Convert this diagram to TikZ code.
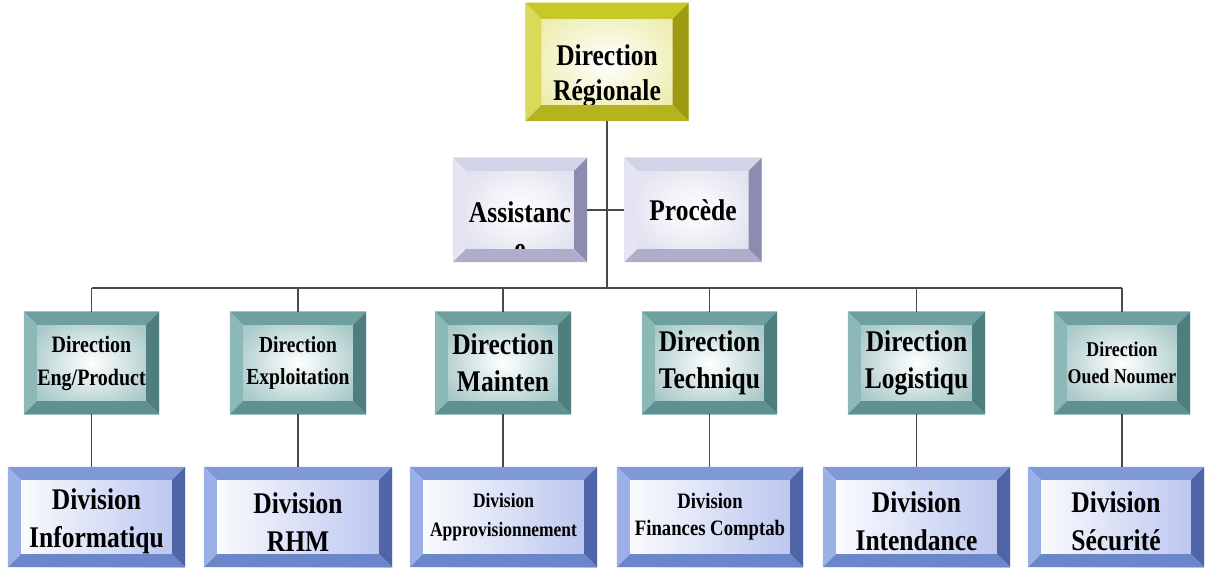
\documentclass[tikz,border=0pt]{standalone}
\usepackage{fontspec}
\newfontfamily\orgfont[FakeStretch=0.85]{Liberation Serif}

% frame colours: T top, L left, R right, B bottom, In inner tint
\definecolor{ylwT}{HTML}{C9C82A}
\definecolor{ylwL}{HTML}{DADA5A}
\definecolor{ylwR}{HTML}{9C9B12}
\definecolor{ylwB}{HTML}{B5B41E}
\definecolor{ylwIn}{HTML}{EDEDB0}
\definecolor{lavT}{HTML}{D3D3E8}
\definecolor{lavL}{HTML}{E4E4F2}
\definecolor{lavR}{HTML}{8C8CB0}
\definecolor{lavB}{HTML}{AEAECC}
\definecolor{lavIn}{HTML}{E2E2F0}
\definecolor{tlT}{HTML}{6FA0A0}
\definecolor{tlL}{HTML}{8CB8B8}
\definecolor{tlR}{HTML}{4E7E7E}
\definecolor{tlB}{HTML}{5F9191}
\definecolor{tlIn}{HTML}{A9C9C9}
\definecolor{blT}{HTML}{7F98D8}
\definecolor{blL}{HTML}{9BB0E6}
\definecolor{blR}{HTML}{4F65A8}
\definecolor{blB}{HTML}{6C86CA}
\definecolor{blIn}{HTML}{B7C3EE}
\definecolor{linegray}{HTML}{4A4A4A}

% bevelled frame over a node: node, colour family, bevel width
\newcommand{\bevelbox}[3]{%
  \fill[#2T] (#1.north west) -- (#1.north east) -- ([shift={(-#3,-#3)}]#1.north east) -- ([shift={(#3,-#3)}]#1.north west) -- cycle;
  \fill[#2L] (#1.north west) -- ([shift={(#3,-#3)}]#1.north west) -- ([shift={(#3,#3)}]#1.south west) -- (#1.south west) -- cycle;
  \fill[#2R] (#1.north east) -- (#1.south east) -- ([shift={(-#3,#3)}]#1.south east) -- ([shift={(-#3,-#3)}]#1.north east) -- cycle;
  \fill[#2B] (#1.south west) -- ([shift={(#3,#3)}]#1.south west) -- ([shift={(-#3,#3)}]#1.south east) -- (#1.south east) -- cycle;
}

\begin{document}
\begin{tikzpicture}[x=1pt, y=-1pt,
    link/.style={draw=linegray, line width=1.6pt},
    box/.style={rectangle, inner sep=0pt, align=center, text=black},
    txt/.style 2 args={font=\orgfont\bfseries\fontsize{#1}{#2}\selectfont},
    radin/.style={path picture={\shade[inner color=white, outer color=#1]
        (path picture bounding box.south west) rectangle (path picture bounding box.north east);}},
    axin/.style={path picture={\shade[left color=white, right color=#1]
        (path picture bounding box.south west) rectangle (path picture bounding box.north east);}},
    dirbox/.style={box, radin=tlIn, minimum width=136pt, minimum height=102pt},
    divbox/.style={box, axin=blIn, minimum height=100pt}]

    \useasboundingbox (0,0) rectangle (1210,569);

    % Top and staff boxes
    \node[box, radin=ylwIn, minimum width=163pt, minimum height=118pt, txt={30}{35}] (top) at (607,62)
        {\rule{0pt}{48pt}Direction\\Régionale};
    \node[box, radin=lavIn, minimum width=134pt, minimum height=104pt, txt={30}{36}] (asst) at (520,210)
        {\raisebox{0pt}[\height][0pt]{\begin{tabular}[t]{@{}c@{}}Assistanc\\e\end{tabular}}};
    \node[box, radin=lavIn, minimum width=137pt, minimum height=104pt, txt={30}{36}] (proc) at (693,210) {Procède};

    % Directions
    \node[dirbox, minimum width=135pt, txt={23.5}{33}] (d1) at (91.5,363) {Direction\\Eng/Product};
    \node[dirbox, txt={23}{32}] (d2) at (298,363) {Direction\\Exploitation};
    \node[dirbox, txt={30}{37}] (d3) at (503,363) {Direction\\Mainten};
    \node[dirbox, minimum width=135pt, txt={30}{37}] (d4) at (709.5,363) {Direction\\Techniqu};
    \node[dirbox, minimum width=137pt, txt={30}{37}] (d5) at (916.5,363) {Direction\\Logistiqu};
    \node[dirbox, txt={21}{27}] (d6) at (1122,363) {Direction\\Oued Noumer};

    % Divisions
    \node[divbox, minimum width=177pt, txt={30}{38}] (v1) at (96.5,517) {\rule{0pt}{30pt}Division\\Informatiqu};
    \node[divbox, minimum width=188pt, txt={30}{38}] (v2) at (298,517) {\rule{0pt}{30pt}Division\\RHM};
    \node[divbox, minimum width=187pt, txt={20.5}{29}] (v3) at (503.5,517) {Division\\Approvisionnement};
    \node[divbox, minimum width=186pt, txt={22}{27}] (v4) at (710,517) {Division\\Finances Comptab};
    \node[divbox, minimum width=187pt, txt={30}{38}] (v5) at (916.5,517) {\rule{0pt}{30pt}Division\\Intendance};
    \node[divbox, minimum width=176pt, txt={30}{38}] (v6) at (1116,517) {\rule{0pt}{30pt}Division\\Sécurité};

    % Bevelled frames
    \foreach \nd/\fcol/\bw in {top/ylw/16pt, asst/lav/13pt, proc/lav/13pt,
        d1/tl/13pt, d2/tl/13pt, d3/tl/13pt, d4/tl/13pt, d5/tl/13pt, d6/tl/13pt,
        v1/bl/13pt, v2/bl/13pt, v3/bl/13pt, v4/bl/13pt, v5/bl/13pt, v6/bl/13pt}
        {\bevelbox{\nd}{\fcol}{\bw}}

    % Connectors
    \coordinate (bus) at (607,288);
    \draw[link] (top.south) -- (top.south |- bus);
    \draw[link] (asst.east) -- (proc.west);
    \draw[link] (d1.north |- bus) -- (d6.north |- bus);
    \foreach \i in {1,...,6} {
        \draw[link] (d\i.north |- bus) -- (d\i.north);
        \draw[link] (d\i.south) -- (d\i.south |- v\i.north);
    }
\end{tikzpicture}
\end{document}
